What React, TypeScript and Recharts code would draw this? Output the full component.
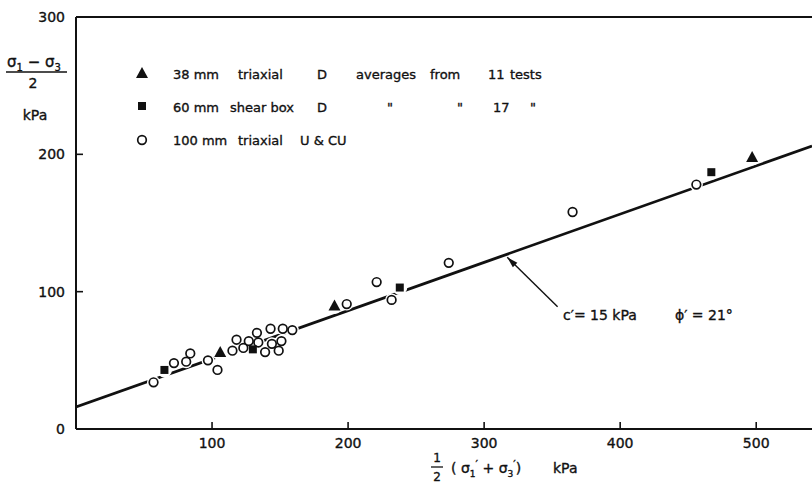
import React from "react";
import { ScatterChart, Scatter, XAxis, YAxis, ReferenceLine, Customized } from "recharts";

type Pt = { x: number; y: number; head?: boolean };

// 38 mm triaxial, drained (averages from 11 tests)
const triaxial38: Pt[] = [
  { x: 106, y: 56 },
  { x: 190, y: 90 },
  { x: 497, y: 198 },
];

// 60 mm shear box, drained (averages from 17 tests)
const shearBox60: Pt[] = [
  { x: 65, y: 43 },
  { x: 130, y: 58 },
  { x: 238, y: 103 },
  { x: 467, y: 187 },
];

// 100 mm triaxial U & CU
const triaxial100: Pt[] = [
  { x: 57, y: 34 },
  { x: 72, y: 48 },
  { x: 81, y: 49 },
  { x: 84, y: 55 },
  { x: 97, y: 50 },
  { x: 104, y: 43 },
  { x: 115, y: 57 },
  { x: 118, y: 65 },
  { x: 123, y: 59 },
  { x: 127, y: 64 },
  { x: 133, y: 70 },
  { x: 134, y: 63 },
  { x: 139, y: 56 },
  { x: 143, y: 73 },
  { x: 144, y: 62 },
  { x: 149, y: 57 },
  { x: 151, y: 64 },
  { x: 152, y: 73 },
  { x: 159, y: 72 },
  { x: 199, y: 91 },
  { x: 221, y: 107 },
  { x: 232, y: 94 },
  { x: 274, y: 121 },
  { x: 365, y: 158 },
  { x: 456, y: 178 },
];

// failure envelope c' = 15 kPa, phi' = 21 deg
const envelope: Pt[] = [
  { x: 0, y: 16 },
  { x: 541, y: 206 },
];

const arrow: Pt[] = [
  { x: 354, y: 89 },
  { x: 317, y: 125, head: true },
];

const xTicks = [100, 200, 300, 400, 500];
const yTicks = [0, 100, 200, 300];

const FONT = "DejaVu Sans";
const INK = "#111";
// the original lettering is a bit heavier than a regular face
const heavy = { stroke: INK, strokeWidth: 0.35 };

const XTick = (props: any) => {
  const { x, y, payload } = props;
  return (
    <g>
      <line x1={x} x2={x} y1={y} y2={y - 7} stroke={INK} strokeWidth={1.6} />
      <text x={x} y={y + 19} textAnchor="middle" fontSize={14} fontFamily={FONT} fill={INK} {...heavy}>
        {payload.value}
      </text>
    </g>
  );
};

const YTick = (props: any) => {
  const { x, y, payload } = props;
  const v = payload.value;
  return (
    <g>
      {v !== 0 && v !== 300 && (
        <line x1={x} x2={x + 7} y1={y} y2={y} stroke={INK} strokeWidth={1.6} />
      )}
      <text x={x - 11} y={y + 5} textAnchor="end" fontSize={14} fontFamily={FONT} fill={INK} {...heavy}>
        {v}
      </text>
    </g>
  );
};

const Halo = (r: number) => (props: any) => (
  <circle cx={props.cx} cy={props.cy} r={r} fill="#fff" stroke="none" />
);

const Triangle = (props: any) => {
  const { cx, cy } = props;
  return <polygon points={`${cx},${cy - 6} ${cx + 6},${cy + 5} ${cx - 6},${cy + 5}`} fill={INK} />;
};

const Square = (props: any) => {
  const { cx, cy } = props;
  return <rect x={cx - 4} y={cy - 4} width={8} height={8} fill={INK} />;
};

const OpenCircle = (props: any) => {
  const { cx, cy } = props;
  return <circle cx={cx} cy={cy} r={4.3} fill="#fff" stroke={INK} strokeWidth={1.7} />;
};

const ArrowEnd = (props: any) => {
  const { cx, cy, payload } = props;
  if (!payload || !payload.head) return <g />;
  const bx = 0.714;
  const by = 0.7;
  const px = -0.7;
  const py = 0.714;
  const L = 11;
  const W = 3.2;
  return (
    <polygon
      points={`${cx},${cy} ${cx + L * bx + W * px},${cy + L * by + W * py} ${cx + L * bx - W * px},${cy + L * by - W * py}`}
      fill={INK}
    />
  );
};

const Overlay = () => {
  const t = { fontFamily: FONT, fontSize: 13, fill: INK, ...heavy } as const;
  return (
    <g>
      {/* y axis title */}
      <text x={7} y={67} fontFamily={FONT} fontSize={15} fill={INK} {...heavy}>
        σ<tspan fontSize={10} dy={4}>1</tspan>
        <tspan dy={-4}> − σ</tspan>
        <tspan fontSize={10} dy={4}>3</tspan>
      </text>
      <line x1={6} x2={67} y1={72} y2={72} stroke={INK} strokeWidth={1.5} />
      <text x={33} y={88} textAnchor="middle" {...t} fontSize={14}>2</text>
      <text x={35} y={120} textAnchor="middle" {...t} fontSize={14}>kPa</text>

      {/* x axis title */}
      <text x={437} y={462} textAnchor="middle" {...t} fontSize={12}>1</text>
      <line x1={431} x2={443} y1={467} y2={467} stroke={INK} strokeWidth={1.3} />
      <text x={437} y={481} textAnchor="middle" {...t} fontSize={12}>2</text>
      <text x={451} y={473} {...t} fontSize={14}>
        (  σ<tspan fontSize={9} dy={4}>1</tspan>
        <tspan dy={-9} fontSize={11}>′</tspan>
        <tspan dy={5}> + σ</tspan>
        <tspan fontSize={9} dy={4}>3</tspan>
        <tspan dy={-9} fontSize={11}>′</tspan>
        <tspan dy={5}>)</tspan>
      </text>
      <text x={553} y={473} {...t} fontSize={14}>kPa</text>

      {/* legend */}
      <polygon points="142,67 148,78 136,78" fill={INK} />
      <text x={173} y={79} {...t}>38 mm</text>
      <text x={238} y={79} {...t}>triaxial</text>
      <text x={317} y={79} {...t}>D</text>
      <text x={356} y={79} {...t}>averages</text>
      <text x={430} y={79} {...t}>from</text>
      <text x={488} y={79} {...t}>11</text>
      <text x={510} y={79} {...t}>tests</text>

      <rect x={138} y={102} width={8} height={8} fill={INK} />
      <text x={173} y={112} {...t}>60 mm</text>
      <text x={230} y={112} {...t}>shear box</text>
      <text x={317} y={112} {...t}>D</text>
      <text x={387} y={112} {...t}>"</text>
      <text x={457} y={112} {...t}>"</text>
      <text x={493} y={112} {...t}>17</text>
      <text x={530} y={112} {...t}>"</text>

      <circle cx={142} cy={140} r={4.3} fill="#fff" stroke={INK} strokeWidth={1.7} />
      <text x={173} y={145} {...t}>100 mm</text>
      <text x={238} y={145} {...t}>triaxial</text>
      <text x={300} y={145} {...t}>U &amp; CU</text>

      {/* envelope annotation */}
      <text x={563} y={320} {...t} fontSize={14}>c′= 15 kPa</text>
      <text x={675} y={320} {...t} fontSize={14}>ϕ′ = 21°</text>
    </g>
  );
};

export default function App() {
  return (
    <div style={{ position: "absolute", left: 0, top: 0, width: 812, height: 488, background: "#fff" }}>
      <ScatterChart width={812} height={488} margin={{ top: 17, right: 0, bottom: 0, left: 0 }}>
        <XAxis
          type="number"
          dataKey="x"
          domain={[0, 541]}
          ticks={xTicks}
          height={59}
          tickSize={0}
          tickMargin={0}
          tick={<XTick />}
          axisLine={{ stroke: INK, strokeWidth: 2 }}
          tickLine={false}
          allowDataOverflow
        />
        <YAxis
          type="number"
          dataKey="y"
          domain={[0, 300]}
          ticks={yTicks}
          width={76}
          tickSize={0}
          tickMargin={0}
          tick={<YTick />}
          axisLine={{ stroke: INK, strokeWidth: 2 }}
          tickLine={false}
          allowDataOverflow
        />
        <ReferenceLine y={300} stroke={INK} strokeWidth={2} />
        <Scatter
          data={envelope}
          line={{ stroke: INK, strokeWidth: 2.8 }}
          shape={() => <g />}
          isAnimationActive={false}
        />
        <Scatter
          data={arrow}
          line={{ stroke: INK, strokeWidth: 1.4 }}
          shape={ArrowEnd}
          isAnimationActive={false}
        />
        <Scatter data={triaxial100} shape={Halo(6.5)} isAnimationActive={false} />
        <Scatter data={shearBox60} shape={Halo(7.5)} isAnimationActive={false} />
        <Scatter data={triaxial38} shape={Halo(8.5)} isAnimationActive={false} />
        <Scatter data={triaxial100} shape={OpenCircle} isAnimationActive={false} />
        <Scatter data={shearBox60} shape={Square} isAnimationActive={false} />
        <Scatter data={triaxial38} shape={Triangle} isAnimationActive={false} />
        <Customized component={Overlay} />
      </ScatterChart>
    </div>
  );
}
